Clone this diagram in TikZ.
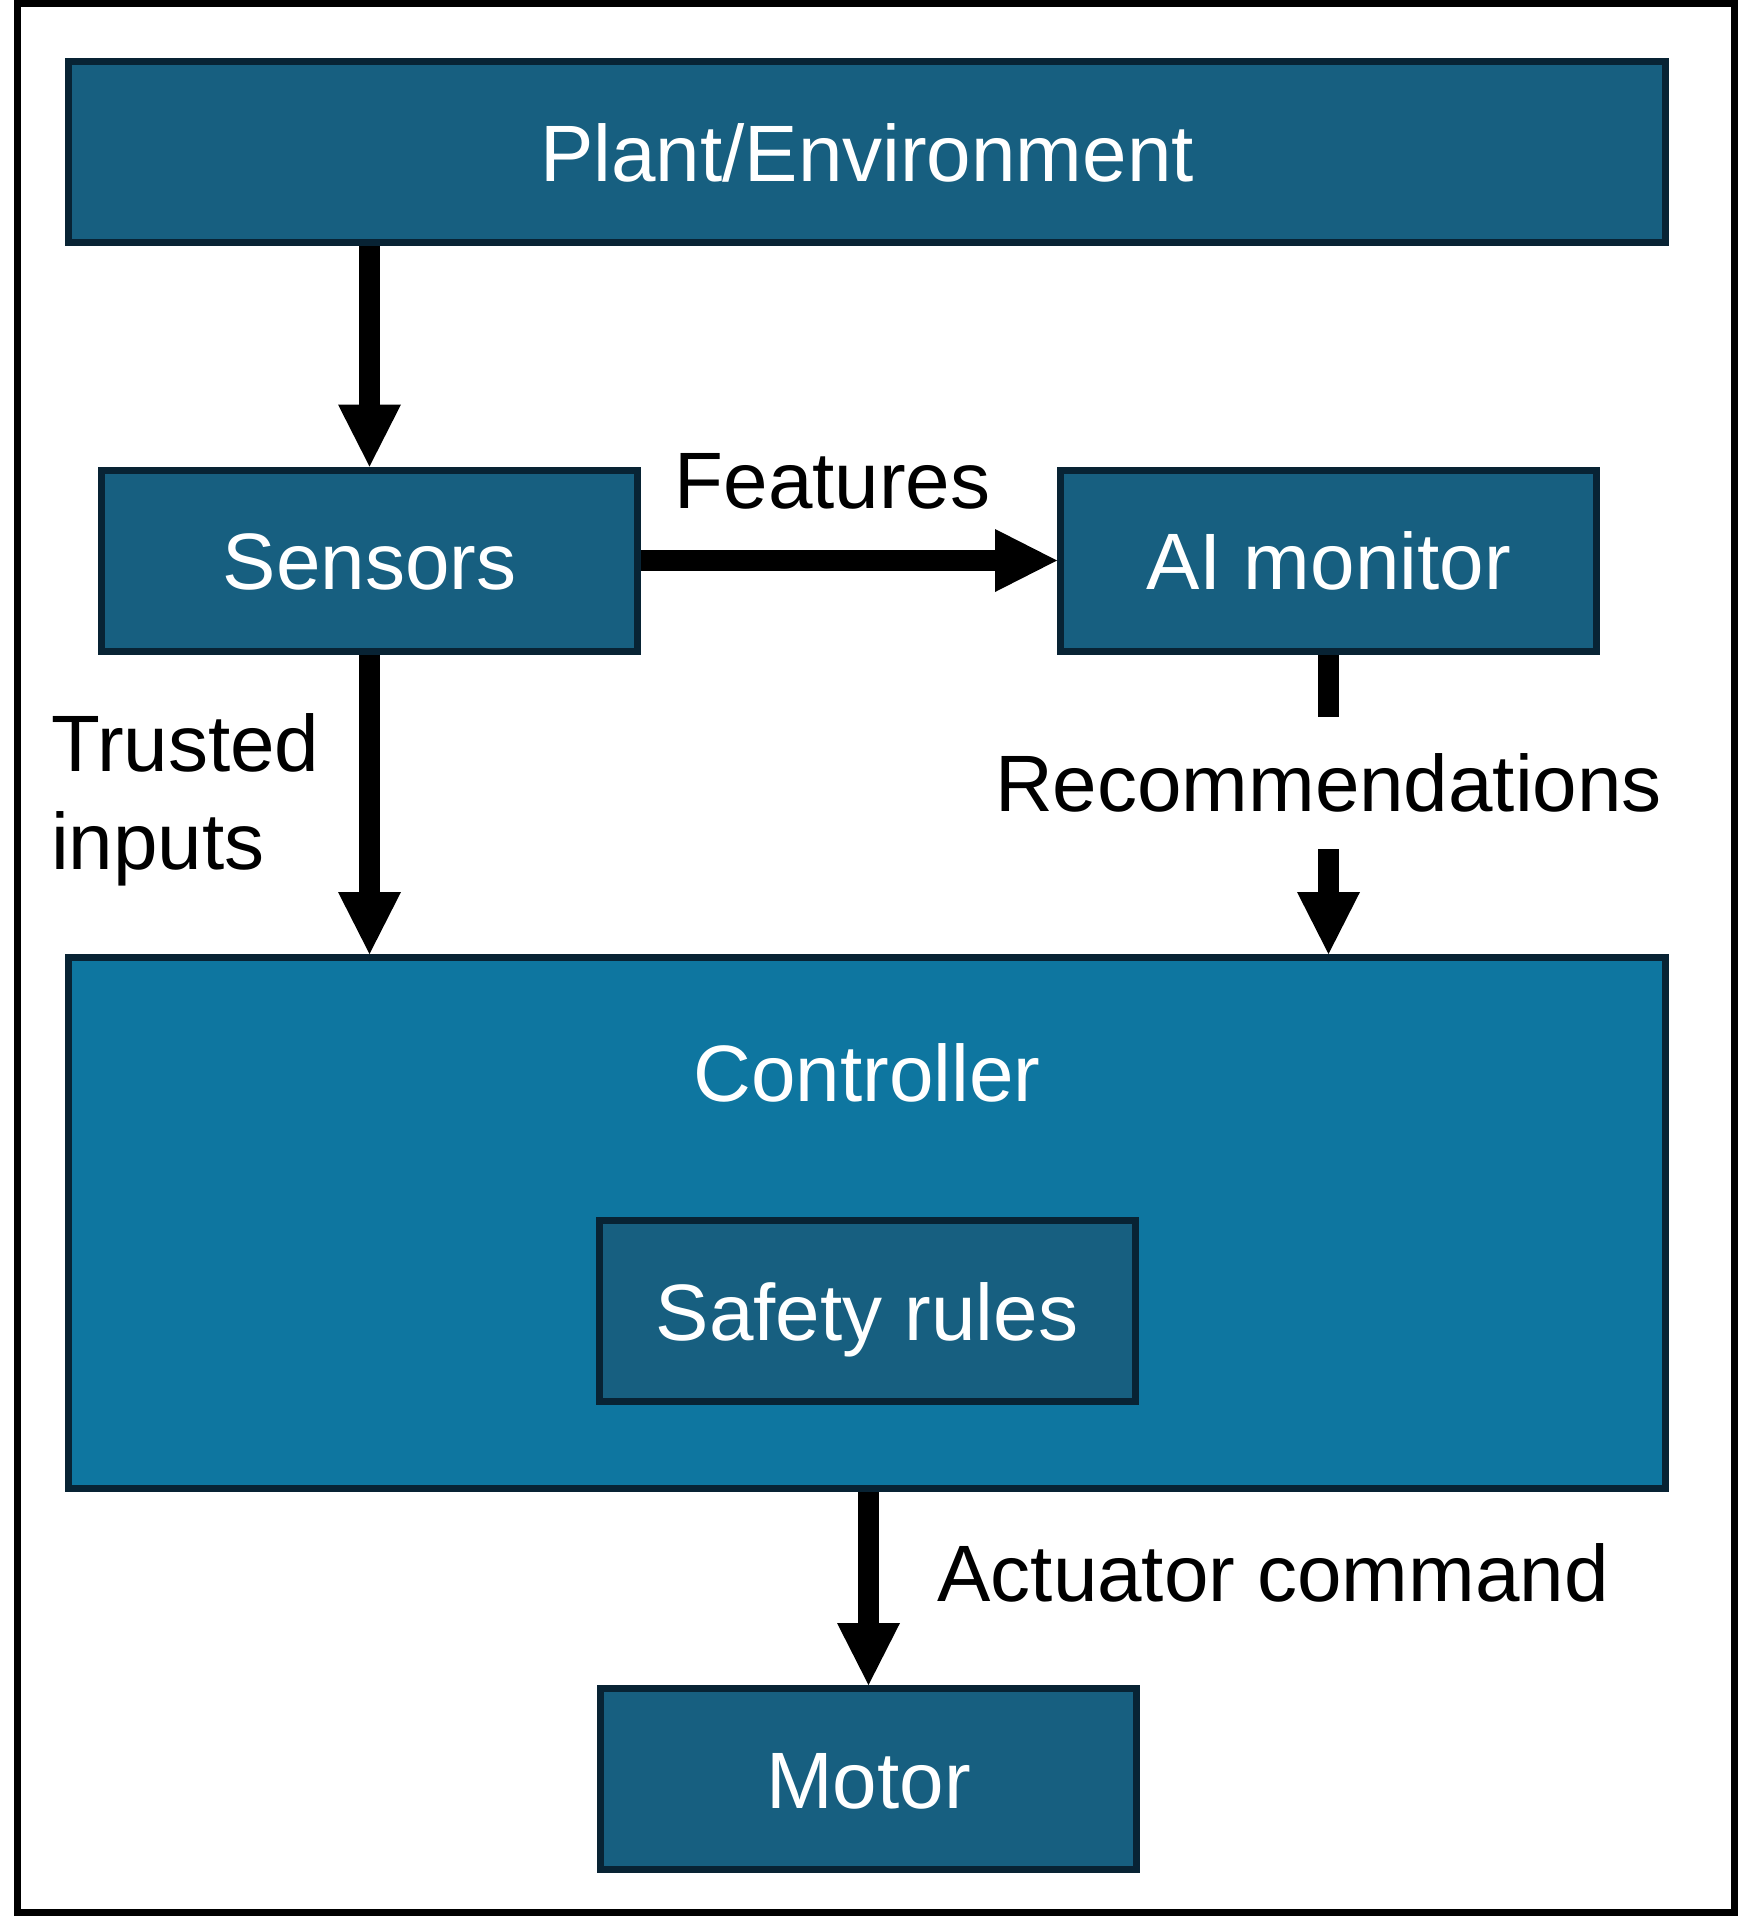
\documentclass[tikz,border=0pt]{standalone}
\usepackage{fontspec}
\setmainfont{Liberation Sans}
\usepackage{tikz}
\usetikzlibrary{arrows.meta}

\definecolor{boxblue}{RGB}{23,95,128}
\definecolor{ctrlblue}{RGB}{14,118,160}
\definecolor{boxedge}{RGB}{8,35,52}

\tikzset{
  blk/.style={draw=boxedge, fill=boxblue, line width=3.5pt, text=white,
    minimum width=268pt, minimum height=90.5pt, inner sep=0pt,
    text height=29pt, text depth=0pt},
  arr/.style={line width=10.5pt, -{Triangle[length=31pt,width=31.5pt,line width=0pt]}},
  lbl/.style={inner sep=0pt, text=black}
}

\begin{document}
\begin{tikzpicture}[x=0.5pt,y=-0.5pt,font=\fontsize{40}{49}\selectfont]
\useasboundingbox (0,0) rectangle (1738,1916);
% outer frame
\draw[line width=3.5pt] (17.5,3.5) rectangle (1734.5,1912.5);

% boxes
\node[blk, minimum width=798.5pt] (plant) at (867,152) {Plant/Environment};
\node[blk] (sens) at (369.5,560.5) {Sensors};
\node[blk] (ai) at (1328.5,560.5) {AI monitor};
\node[blk, fill=ctrlblue, minimum width=798.5pt, minimum height=265.5pt] (ctrl) at (867,1223) {};
\node[text=white, inner sep=0pt] (ctrltxt) at (867,1073) {Controller};
\node[blk] (rules) at (867,1311) {Safety rules};
\node[blk] (motor) at (868.5,1779) {Motor};

% labels
\node[lbl, anchor=base] (feat) at (832.5,508) {Features};
\node[lbl, anchor=west, align=left] (trust) at (50.7,800) {Trusted\\inputs};
\node[lbl, anchor=base west] (act) at (937,1601.7) {Actuator command};

% connectors
\draw[arr] (plant.south -| sens) -- (sens.north);
\draw[arr] (sens.east) -- (ai.west);
\draw[arr] (sens.south) -- (sens.south |- ctrl.north);
\draw[arr] (ai.south) -- (ai.south |- ctrl.north)
  node[pos=0.43, fill=white, minimum height=66pt, inner xsep=2pt, inner ysep=0pt] (rec) {Recommendations};
\draw[arr] (ctrl.south -| motor) -- (motor.north);
\end{tikzpicture}
\end{document}
